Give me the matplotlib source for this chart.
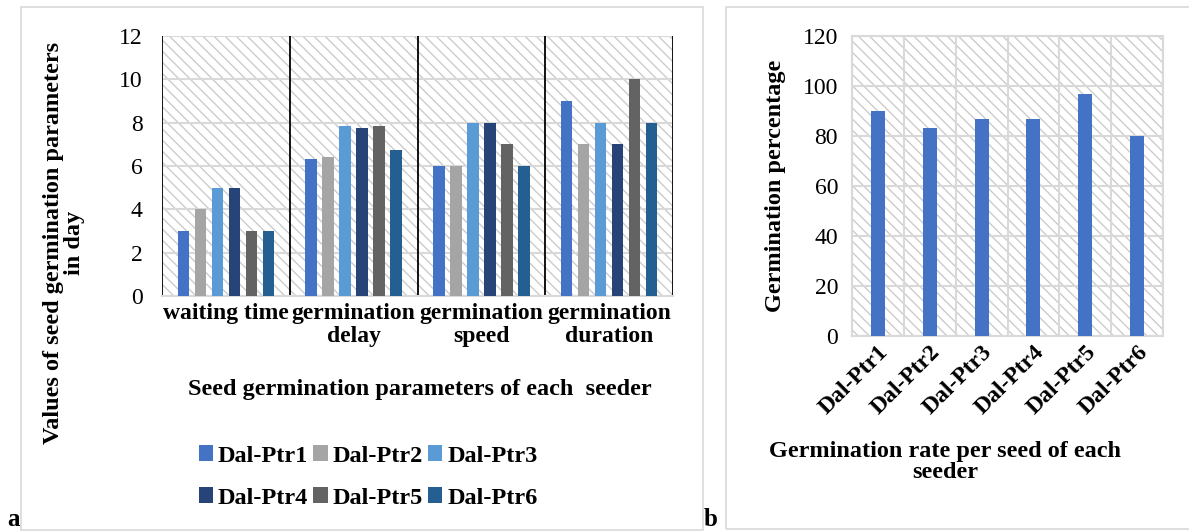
import numpy as np
import matplotlib
matplotlib.use("Agg")
import matplotlib.pyplot as plt
from matplotlib.patches import Rectangle

plt.rcParams['font.family'] = ['Liberation Serif', 'DejaVu Serif']
plt.rcParams['hatch.linewidth'] = 1.0

# data
params = ["waiting time", "germination\ndelay", "germination\nspeed", "germination\nduration"]
seeders = ["Dal-Ptr1", "Dal-Ptr2", "Dal-Ptr3", "Dal-Ptr4", "Dal-Ptr5", "Dal-Ptr6"]
ptr1 = [3, 6.33, 6, 9]
ptr2 = [4, 6.43, 6, 7]
ptr3 = [5, 7.83, 8, 8]
ptr4 = [5, 7.77, 8, 7]
ptr5 = [3, 7.83, 7, 10]
ptr6 = [3, 6.73, 6, 8]
germ_pct = [90, 83.3, 86.7, 86.7, 96.7, 80]

colors = ["#4472C4", "#A5A5A5", "#5B9BD5", "#264478", "#636363", "#255E91"]
grid_c = "#D9D9D9"
W, H = 1189, 531
FS = 17
LFS = 17.5

fig = plt.figure(figsize=(W / 100, H / 100), dpi=100)

# panel frames
fig.patches.append(Rectangle((21 / W, 1 - 530 / H), (703 - 21) / W, (530 - 7) / H,
                             transform=fig.transFigure, fill=False, edgecolor=grid_c, lw=1.2))
fig.patches.append(Rectangle((726 / W, 1 - 529 / H), (1195 - 726) / W, (529 - 7) / H,
                             transform=fig.transFigure, fill=False, edgecolor=grid_c, lw=1.2))


def hatch_bg(ax):
    ax.add_patch(Rectangle((0, 0), 1, 1, transform=ax.transAxes, facecolor="white",
                           edgecolor="#CCCCCC", hatch="\\\\\\", lw=0, zorder=0))


# ---- panel a ----
ax1 = fig.add_axes([162 / W, 1 - 296 / H, (673 - 162) / W, (296 - 36) / H])
hatch_bg(ax1)
x = np.arange(len(params))
series = [ptr1, ptr2, ptr3, ptr4, ptr5, ptr6]
bars = []
for k, (vals, name) in enumerate(zip(series, seeders)):
    bars.append(ax1.bar(x + (k - 2.5) * 0.133, vals, width=0.09, color=colors[k],
                        label=name, zorder=3))
ax1.set_xlim(-0.5, 3.5)
ax1.set_ylim(0, 12)
ax1.set_yticks(range(0, 13, 2))
ax1.yaxis.grid(True, color=grid_c, lw=1.5, zorder=1)
ax1.set_axisbelow(True)
for b in np.arange(-0.5, 4, 1):
    ax1.axvline(b, color="black", lw=1.3, zorder=2)
ax1.set_xticks(x)
ax1.set_xticklabels(params, fontweight="bold", fontsize=LFS, linespacing=1.1)
ax1.tick_params(length=0, labelsize=FS, pad=5)
ax1.tick_params(axis="y", pad=14)
for s in ["top", "right", "left"]:
    ax1.spines[s].set_visible(False)
ax1.spines["bottom"].set_color(grid_c)
ax1.spines["bottom"].set_linewidth(1.5)

fig.text(420 / W, 1 - 389 / H, "Seed germination parameters of each  seeder",
         ha="center", va="center", fontsize=LFS, fontweight="bold")
fig.text(64 / W, 1 - 243 / H, "Values of seed germination parameters\nin day",
         ha="center", va="center", rotation=90, fontsize=LFS, fontweight="bold",
         linespacing=1.0)
# legend filled row by row: Ptr1 Ptr2 Ptr3 / Ptr4 Ptr5 Ptr6
order = [0, 3, 1, 4, 2, 5]
fig.legend([bars[i] for i in order], [seeders[i] for i in order],
           loc="center", bbox_to_anchor=(368 / W, 1 - 477 / H), ncol=3, frameon=False,
           prop={"weight": "bold", "size": LFS}, handlelength=0.6, handleheight=0.6,
           handletextpad=0.2, columnspacing=0.2, labelspacing=0.85)

# ---- panel b ----
ax2 = fig.add_axes([852 / W, 1 - 336 / H, (1163 - 852) / W, (336 - 36) / H])
hatch_bg(ax2)
xb = np.arange(len(seeders))
ax2.bar(xb, germ_pct, width=0.27, color=colors[0], zorder=3)
ax2.set_xlim(-0.5, 5.5)
ax2.set_ylim(0, 120)
ax2.set_yticks(range(0, 121, 20))
ax2.yaxis.grid(True, color=grid_c, lw=1.5, zorder=1)
for b in np.arange(-0.5, 6, 1):
    ax2.axvline(b, color=grid_c, lw=1.5, zorder=1)
ax2.set_xticks(xb)
ax2.set_xticklabels(seeders, rotation=45, ha="right", rotation_mode="anchor",
                    fontweight="bold", fontsize=LFS)
ax2.tick_params(length=0, labelsize=FS)
ax2.tick_params(axis="x", pad=4)
ax2.tick_params(axis="y", pad=10)
for s in ax2.spines.values():
    s.set_color(grid_c)
    s.set_linewidth(1.5)
fig.text(776 / W, 1 - 186 / H, "Germination percentage", ha="center", va="center",
         rotation=90, fontsize=LFS, fontweight="bold")
fig.text(945 / W, 1 - 462 / H, "Germination rate per seed of each\nseeder", ha="center",
         va="center", fontsize=LFS, fontweight="bold", linespacing=1.05)

# panel letters
fig.text(13 / W, 1 - 520 / H, "a", ha="center", va="center", fontsize=18, fontweight="bold")
fig.text(711 / W, 1 - 520 / H, "b", ha="center", va="center", fontsize=18, fontweight="bold")

fig.savefig("out.png", dpi=100, facecolor="white")
